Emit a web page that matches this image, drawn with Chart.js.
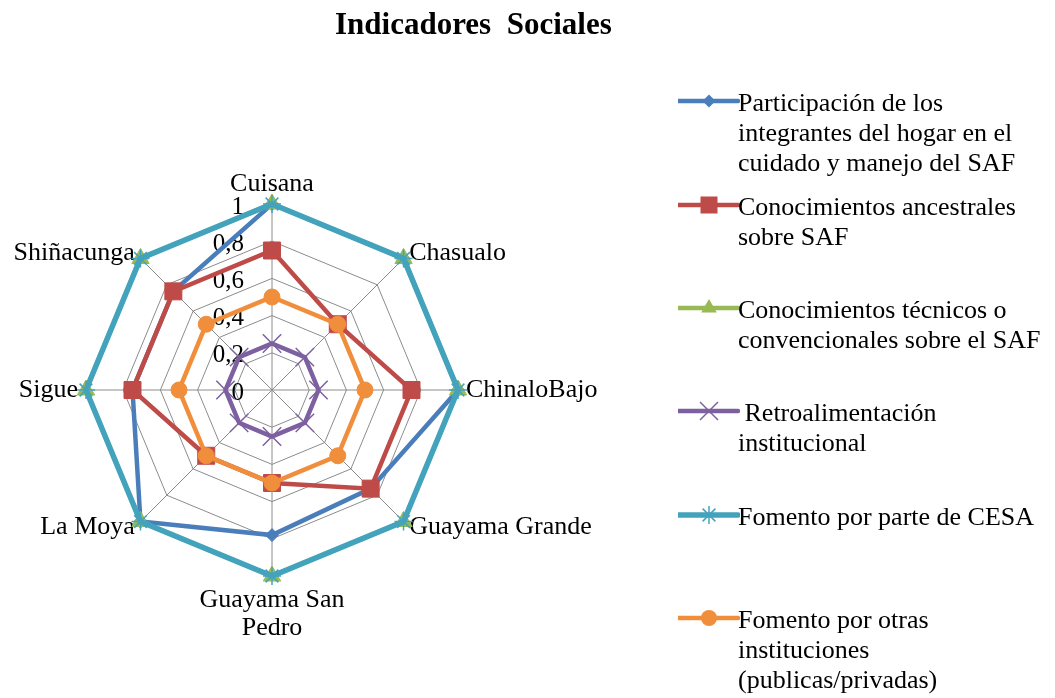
<!DOCTYPE html>
<html>
<head>
<meta charset="utf-8">
<script src="https://cdn.jsdelivr.net/npm/chart.js@4/dist/chart.umd.min.js"></script>
<style>
  body { margin: 0; background: #fff; }
  #wrap { position: relative; width: 1055px; height: 698px; background: #fff; overflow: hidden; }
  #chart { position: absolute; left: 0; top: 0; }
  #title {
    position: absolute; left: 335px; top: 6px;
    font: bold 31px 'Liberation Serif', 'Times New Roman', serif;
    line-height: 36px; white-space: pre; color: #000;
  }
  .leg-item { position: absolute; left: 678px; width: 377px; height: 100px; }
  .leg-item svg { position: absolute; left: 0; }
  .leg-text {
    position: absolute; left: 60px; top: 0;
    font: 26px 'Liberation Serif', 'Times New Roman', serif;
    line-height: 30px; white-space: pre; color: #000;
  }
</style>
</head>
<body>
<div id="wrap">
  <canvas id="chart" width="1055" height="698"></canvas>
  <div id="title">Indicadores  Sociales</div>
  <div id="legend"></div>
</div>
<script>
// categorias del radar
const categories = ['Cuisana', 'Chasualo', 'ChinaloBajo', 'Guayama Grande',
    ['Guayama San', 'Pedro'], 'La Moya', 'Sigue', 'Shiñacunga'];

// valores de cada indicador
const participacion = [1, 1, 1, 0.75, 0.78, 1, 0.75, 0.75];
const conocAncestrales = [0.75, 0.5, 0.75, 0.75, 0.5, 0.5, 0.75, 0.75];
const conocTecnicos = [1, 1, 1, 1, 1, 1, 1, 1];
const retroalimentacion = [0.25, 0.25, 0.25, 0.25, 0.25, 0.25, 0.25, 0.25];
const fomentoCesa = [1, 1, 1, 1, 1, 1, 1, 1];
const fomentoOtras = [0.5, 0.5, 0.5, 0.5, 0.5, 0.5, 0.5, 0.5];

const seriesNames = [
    ['Participación de los', 'integrantes del hogar en el', 'cuidado y manejo del SAF'],
    ['Conocimientos ancestrales', 'sobre SAF'],
    ['Conocimientos técnicos o', 'convencionales sobre el SAF'],
    [' Retroalimentación', 'institucional'],
    ['Fomento por parte de CESA'],
    ['Fomento por otras', 'instituciones', '(publicas/privadas)']
];

// ticks del eje radial
const tickValues = [0, 0.2, 0.4, 0.6, 0.8, 1];
const tickLabels = ['0', '0,2', '0,4', '0,6', '0,8', '1'];

const seriesData = [participacion, conocAncestrales, conocTecnicos, retroalimentacion, fomentoCesa, fomentoOtras];
const colors = ['#4A7EBB', '#BE4B48', '#98B954', '#7D60A0', '#44A3BC', '#F08E3C'];
const markers = ['rectRot', 'rect', 'triangle', 'crossRot', 'star', 'circle'];
const markerSize = [6.5, 12, 10, 13, 9, 8];
const lineWidths = [4.5, 4.5, 4.5, 4.5, 5.5, 4.5];

const serif = "'Liberation Serif', 'Times New Roman', serif";

const labelPlugin = {
    id: 'labelPlugin',
    beforeDatasetsDraw(chart) {
        const scale = chart.scales.r;
        const ctx = chart.ctx;
        ctx.save();
        ctx.fillStyle = '#000';
        ctx.textBaseline = 'middle';

        // etiquetas de ticks a la izquierda del eje vertical
        ctx.font = '25px ' + serif;
        ctx.textAlign = 'right';
        tickValues.forEach((v, i) => {
            const d = scale.getDistanceFromCenterForValue(v);
            ctx.fillText(tickLabels[i], scale.xCenter - 28, scale.yCenter - d + 3);
        });

        // nombres de las comunidades
        ctx.font = '26px ' + serif;
        categories.forEach((label, i) => {
            const p = scale.getPointPosition(i, scale.drawingArea + 8);
            const dx = p.x - scale.xCenter;
            const lines = [].concat(label);
            let y = p.y;
            if (Math.abs(dx) < 1) {
                ctx.textAlign = 'center';
                y += p.y < scale.yCenter ? -12 : 16;
            } else {
                ctx.textAlign = dx > 0 ? 'left' : 'right';
            }
            lines.forEach((t, k) => ctx.fillText(t, p.x, y + k * 28));
        });
        ctx.restore();
    }
};

const ctx = document.getElementById('chart').getContext('2d');
new Chart(ctx, {
    type: 'radar',
    data: {
        labels: categories,
        datasets: seriesData.map((data, i) => ({
            label: seriesNames[i].join(' '),
            data: data,
            borderColor: colors[i],
            backgroundColor: colors[i],
            borderWidth: lineWidths[i],
            fill: false,
            tension: 0,
            pointStyle: markers[i],
            pointRadius: markerSize[i],
            pointHoverRadius: markerSize[i],
            pointBackgroundColor: colors[i],
            pointBorderColor: colors[i],
            pointBorderWidth: (markers[i] === 'crossRot' || markers[i] === 'star') ? 1.5 : 1,
            order: seriesData.length - i,
            clip: false
        }))
    },
    options: {
        responsive: false,
        animation: false,
        layout: {
            padding: { left: 86, top: 204, right: 597, bottom: 122 }
        },
        plugins: {
            legend: { display: false },
            title: { display: false },
            tooltip: { enabled: false }
        },
        scales: {
            r: {
                min: 0,
                max: 1,
                ticks: { stepSize: 0.2, display: false },
                pointLabels: { display: false },
                grid: { color: '#8c8c8c', lineWidth: 1 },
                angleLines: { color: '#8c8c8c', lineWidth: 1 }
            }
        }
    },
    plugins: [labelPlugin]
});

// leyenda en html
function markerSvg(i) {
    const c = colors[i];
    const cx = 31, cy = 12;
    let m = '';
    if (markers[i] === 'rectRot') {
        const r = 6.5;
        m = `<polygon points="${cx - r},${cy} ${cx},${cy - r} ${cx + r},${cy} ${cx},${cy + r}" fill="${c}"/>`;
    } else if (markers[i] === 'rect') {
        m = `<rect x="${cx - 8.5}" y="${cy - 8.5}" width="17" height="17" fill="${c}"/>`;
    } else if (markers[i] === 'triangle') {
        m = `<polygon points="${cx},${cy - 9} ${cx + 7.8},${cy + 4.5} ${cx - 7.8},${cy + 4.5}" fill="${c}"/>`;
    } else if (markers[i] === 'crossRot') {
        const a = 9;
        m = `<path d="M${cx - a} ${cy - a}L${cx + a} ${cy + a}M${cx - a} ${cy + a}L${cx + a} ${cy - a}" stroke="${c}" stroke-width="1.5"/>`;
    } else if (markers[i] === 'star') {
        const a = 6.4, r = 9;
        m = `<path d="M${cx - a} ${cy - a}L${cx + a} ${cy + a}M${cx - a} ${cy + a}L${cx + a} ${cy - a}M${cx} ${cy - r}L${cx} ${cy + r}" stroke="${c}" stroke-width="1.5"/>`;
    } else {
        m = `<circle cx="${cx}" cy="${cy}" r="8" fill="${c}"/>`;
    }
    return `<svg width="62" height="24" style="top:1px">` +
        `<line x1="0" y1="${cy}" x2="60" y2="${cy}" stroke="${c}" stroke-width="${lineWidths[i]}" stroke-linecap="round"/>` +
        m + `</svg>`;
}

const legendTops = [103, 207, 310, 413, 517, 620];
const legend = document.getElementById('legend');
seriesNames.forEach((lines, i) => {
    const item = document.createElement('div');
    item.className = 'leg-item';
    item.style.top = (legendTops[i] - 15) + 'px';
    item.innerHTML = markerSvg(i) + `<div class="leg-text">${lines.join('\n')}</div>`;
    legend.appendChild(item);
});
</script>
</body>
</html>
